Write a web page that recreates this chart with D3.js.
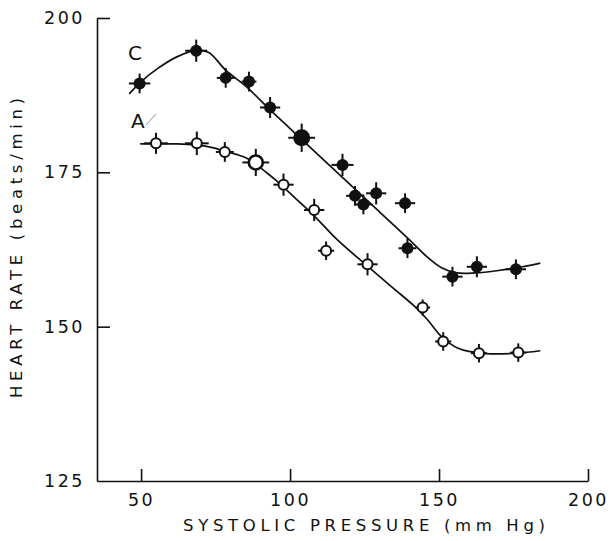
<!DOCTYPE html>
<html>
<head>
<meta charset="utf-8">
<script src="https://cdn.jsdelivr.net/npm/d3@7"></script>
<style>
  html, body { margin: 0; padding: 0; background: #fff; }
  svg text { font-family: "DejaVu Sans", sans-serif; fill: #111; }
</style>
</head>
<body>
<svg id="chart" width="611" height="541"></svg>
<script>
// Series C (filled circles): systolic pressure (mm Hg) vs heart rate (beats/min)
const pressureC = [49.5, 68.5, 78.4, 86.2, 93.3, 103.9, 117.6, 121.8, 124.6, 128.9, 138.6, 139.4, 154.5, 162.7, 175.8];
const rateC     = [189.4, 194.7, 190.3, 189.7, 185.5, 180.6, 176.2, 171.2, 169.8, 171.6, 170.0, 162.7, 158.1, 159.7, 159.3];
const errPressureC = [3.6, 3.7, 3.0, 2.5, 3.4, 4.5, 3.7, 3.0, 3.0, 3.4, 3.4, 3.0, 3.4, 3.4, 3.4];
const errRateC     = [1.6, 1.8, 1.6, 1.6, 1.7, 2.3, 1.8, 1.6, 1.6, 1.8, 1.6, 1.6, 1.6, 1.7, 1.6];
const emphasisC = [5];

// Series A (open circles)
const pressureA = [55.0, 68.7, 78.1, 88.5, 97.8, 108.1, 112.1, 126.0, 144.5, 151.4, 163.4, 176.6];
const rateA     = [179.7, 179.7, 178.3, 176.6, 173.0, 168.9, 162.3, 160.1, 153.1, 147.6, 145.7, 145.8];
const errPressureA = [4.0, 4.0, 3.0, 4.5, 3.4, 3.4, 2.7, 3.4, 2.5, 2.7, 2.7, 2.7];
const errRateA     = [1.7, 1.9, 1.6, 2.2, 1.8, 1.8, 1.5, 1.8, 1.3, 1.5, 1.5, 1.5];
const emphasisA = [3];

// Fitted curves (pressure, rate) knots
const curvePressureC = [46.0, 50.0, 55.5, 62.0, 68.5, 72.7, 78.5, 85.5, 93.3, 100, 110, 120, 130, 140, 146, 151, 156, 162, 170, 178, 184];
const curveRateC     = [187.7, 189.7, 191.8, 193.7, 194.8, 194.4, 191.5, 188.8, 185.1, 182.1, 177.6, 173.1, 168.6, 164.1, 161.3, 159.5, 158.7, 158.7, 159.1, 159.7, 160.3];
const curvePressureA = [49.7, 55.3, 62.0, 68.7, 74.0, 77.6, 82.0, 85.5, 88.8, 92.0, 95.5, 102, 108, 116, 126, 134, 142, 146, 150, 153, 156, 160, 167, 176, 184];
const curveRateA     = [179.6, 179.6, 179.6, 179.4, 179.0, 178.5, 177.9, 177.3, 176.2, 175.0, 173.6, 170.7, 168.0, 164.0, 159.8, 156.5, 153.2, 151.2, 148.8, 147.5, 146.6, 146.0, 145.6, 145.7, 146.1];

// Axis ticks
const xTicks = [50, 100, 150, 200];
const yTicks = [125, 150, 175, 200];

const svg = d3.select("#chart");

const x = d3.scaleLinear().domain([35.2, 200]).range([97, 588]);
const y = d3.scaleLinear().domain([125, 200]).range([481, 18]);

const ink = "#111";

// X axis: ticks point up into the plot
const xAxis = d3.axisBottom(x).tickValues(xTicks).tickSize(-12).tickSizeOuter(0).tickPadding(13);
const gx = svg.append("g").attr("transform", `translate(0,${y(125)})`).call(xAxis);
gx.select(".domain").attr("stroke", ink).attr("stroke-width", 1.6);
gx.selectAll(".tick line").attr("stroke", ink).attr("stroke-width", 1.6);
gx.selectAll(".tick text")
  .attr("font-size", 17.5).attr("letter-spacing", 2.5).attr("fill", ink)
  .attr("font-family", "DejaVu Sans, sans-serif");

// Y axis: ticks point right into the plot
const yAxis = d3.axisLeft(y).tickValues(yTicks).tickSize(-13).tickSizeOuter(0).tickPadding(12);
const gy = svg.append("g").attr("transform", `translate(${x(35.2)},0)`).call(yAxis);
gy.select(".domain").attr("stroke", ink).attr("stroke-width", 1.6);
gy.selectAll(".tick line").attr("stroke", ink).attr("stroke-width", 1.6)
  .filter(d => d === 125).remove();
gy.selectAll(".tick text")
  .attr("font-size", 17.5).attr("letter-spacing", 2.5).attr("fill", ink)
  .attr("font-family", "DejaVu Sans, sans-serif");

// Axis titles
svg.append("text")
  .attr("x", 364).attr("y", 531)
  .attr("text-anchor", "middle")
  .attr("font-size", 16.5)
  .attr("textLength", 362).attr("lengthAdjust", "spacing")
  .text("SYSTOLIC PRESSURE (mm Hg)");

svg.append("text")
  .attr("transform", "translate(22,248) rotate(-90)")
  .attr("text-anchor", "middle")
  .attr("font-size", 16.5)
  .attr("textLength", 300).attr("lengthAdjust", "spacing")
  .text("HEART RATE (beats/min)");

// Fitted curves
const line = d3.line().x(d => x(d[0])).y(d => y(d[1])).curve(d3.curveCatmullRom.alpha(0.5));
const curveC = curvePressureC.map((p, i) => [p, curveRateC[i]]);
const curveA = curvePressureA.map((p, i) => [p, curveRateA[i]]);
svg.append("path").attr("d", line(curveC)).attr("fill", "none").attr("stroke", ink).attr("stroke-width", 1.7);
svg.append("path").attr("d", line(curveA)).attr("fill", "none").attr("stroke", ink).attr("stroke-width", 1.7);

// Points with horizontal and vertical error bars
function drawSeries(px, py, ex, ey, emphasis, filled) {
  const pts = px.map((p, i) => ({ p, r: py[i], ex: ex[i], ey: ey[i], big: emphasis.includes(i) }));
  const g = svg.append("g");
  const grp = g.selectAll("g").data(pts).enter().append("g");
  grp.append("line")
    .attr("x1", d => x(d.p - d.ex)).attr("x2", d => x(d.p + d.ex))
    .attr("y1", d => y(d.r)).attr("y2", d => y(d.r))
    .attr("stroke", ink).attr("stroke-width", 2);
  grp.append("line")
    .attr("x1", d => x(d.p)).attr("x2", d => x(d.p))
    .attr("y1", d => y(d.r - d.ey)).attr("y2", d => y(d.r + d.ey))
    .attr("stroke", ink).attr("stroke-width", 2);
  grp.append("circle")
    .attr("cx", d => x(d.p)).attr("cy", d => y(d.r))
    .attr("r", d => filled ? (d.big ? 8.5 : 6) : (d.big ? 7 : 5))
    .attr("fill", filled ? ink : "#fff")
    .attr("stroke", ink)
    .attr("stroke-width", filled ? 0 : (d => d.big ? 2.6 : 2));
}
drawSeries(pressureC, rateC, errPressureC, errRateC, emphasisC, true);
drawSeries(pressureA, rateA, errPressureA, errRateA, emphasisA, false);

// Series labels
svg.append("text").attr("x", 128).attr("y", 60).attr("font-size", 20).text("C");
svg.append("text").attr("x", 131).attr("y", 128).attr("font-size", 20).text("A");
svg.append("line")
  .attr("x1", 146).attr("y1", 125).attr("x2", 156).attr("y2", 114)
  .attr("stroke", "#888").attr("stroke-width", 0.9);
</script>
</body>
</html>
